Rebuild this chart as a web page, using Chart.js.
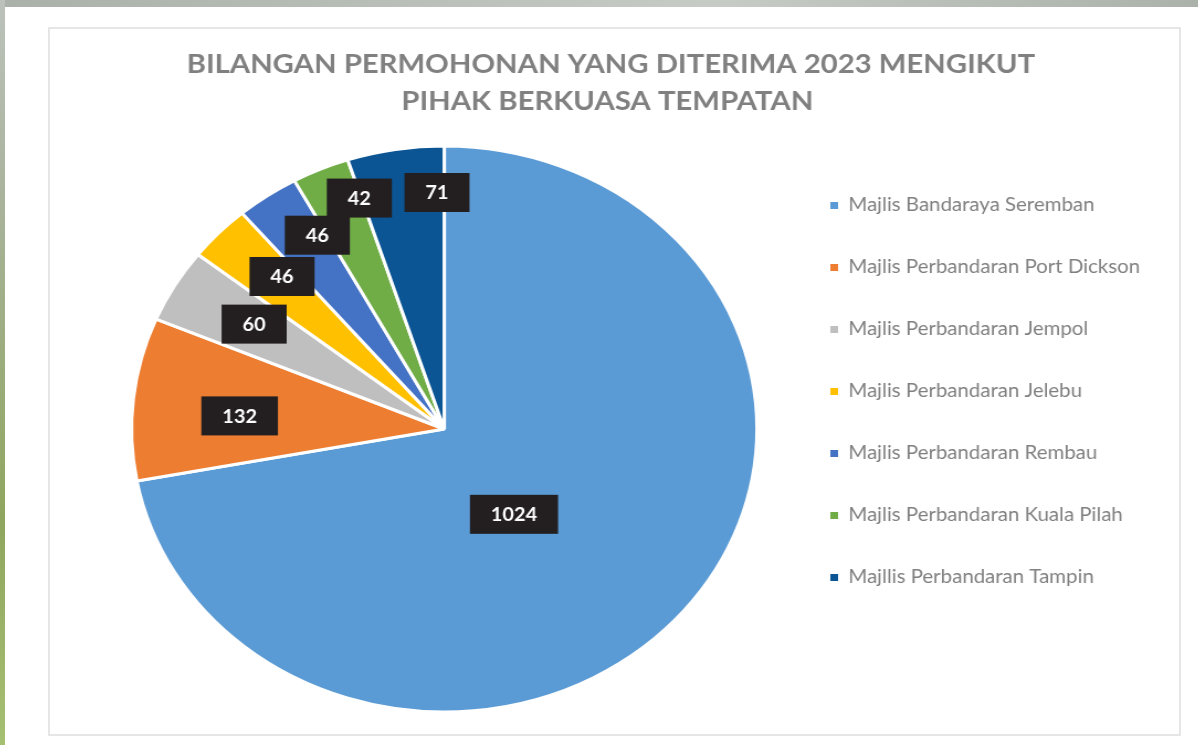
<!DOCTYPE html>
<html>
<head>
<meta charset="utf-8">
<title>Bilangan Permohonan 2023</title>
<script src="https://cdn.jsdelivr.net/npm/chart.js@4/dist/chart.umd.min.js"></script>
<style>
  html, body { margin: 0; padding: 0; }
  body { width: 1198px; height: 745px; position: relative; overflow: hidden; background: #fff; font-family: Lato, sans-serif; }
  .top-band { position: absolute; left: 0; top: 0; width: 1198px; height: 7px; background: linear-gradient(to right, #a9b1a8, #c6cbc5 60%, #aab2a9); }
  .left-band { position: absolute; left: 0; top: 0; width: 5px; height: 745px; background: linear-gradient(to bottom, #bcc2bb, #aab49e 25%, #8fa65e 70%, #a6c072); }
  .frame { position: absolute; left: 48px; top: 27px; width: 1129px; height: 705px; border: 2px solid #e6e6e6; }
  /* the original picture is stretched sideways, so the whole chart is too */
  .chart-box { position: absolute; left: 48px; top: 27px; width: 1025px; height: 709px; transform: scaleX(1.105); transform-origin: 0 0; }
</style>
</head>
<body>
<div class="top-band"></div>
<div class="left-band"></div>
<div class="frame"></div>
<div class="chart-box"><canvas id="pbt-chart"></canvas></div>

<script>
// data
// (trailing spaces nudge the centred title a little to the left, as in the picture)
const titleLines = ['BILANGAN PERMOHONAN YANG DITERIMA 2023 MENGIKUT     ', 'PIHAK BERKUASA TEMPATAN      '];
const councils = [
  'Majlis Bandaraya Seremban',
  'Majlis Perbandaran Port Dickson',
  'Majlis Perbandaran Jempol',
  'Majlis Perbandaran Jelebu',
  'Majlis Perbandaran Rembau',
  'Majlis Perbandaran Kuala Pilah',
  'Majllis Perbandaran Tampin'
];
const applications = [1024, 132, 60, 46, 46, 42, 71];
const sliceColors = ['#5B9BD5', '#ED7D31', '#BFBFBF', '#FFC000', '#4472C4', '#70AD47', '#0B5594'];

// where each value box sits: angle shift (deg) from the slice middle, and fraction of radius
const labelShift = [13.8, -2.1, 0.9, 2.2, 3.8, 4.9, 7.4];
const labelDist = [0.375, 0.656, 0.712, 0.748, 0.796, 0.86, 0.836];

// legend sizing: the legend box must start at x=664.5 (chart units) so the
// pie centre lands where it is in the picture; work out its natural width
const legendFontSize = 18.5;
const legendPad = 43.5;
const legendBox = 7;
const probe = document.createElement('canvas').getContext('2d');
probe.font = legendFontSize + 'px Lato';
const widestLabel = Math.max(...councils.map(t => probe.measureText(t).width));
const legendWidth = legendPad + legendBox + legendFontSize / 2 + widestLabel + 10;
const rightPad = Math.max(0, 1025 - 664.5 - legendWidth);

// dark boxes with the values, placed from the arc geometry
const valueBoxes = {
  id: 'valueBoxes',
  afterDatasetsDraw(chart, args, opts) {
    const ctx = chart.ctx;
    const meta = chart.getDatasetMeta(0);
    ctx.save();
    ctx.font = opts.font;
    ctx.textAlign = 'center';
    ctx.textBaseline = 'middle';
    meta.data.forEach((arc, i) => {
      const p = arc.getProps(['x', 'y', 'startAngle', 'endAngle', 'outerRadius'], true);
      const mid = (p.startAngle + p.endAngle) / 2 + opts.shift[i] * Math.PI / 180;
      const r = p.outerRadius * opts.dist[i];
      const cx = p.x + Math.cos(mid) * r;
      const cy = p.y + Math.sin(mid) * r;
      const text = String(chart.data.datasets[0].data[i]);
      const w = ctx.measureText(text).width + opts.padX * 2;
      ctx.fillStyle = opts.background;
      ctx.fillRect(cx - w / 2, cy - opts.height / 2, w, opts.height);
      ctx.fillStyle = opts.color;
      ctx.fillText(text, cx, cy + 1);
    });
    ctx.restore();
  }
};

const ctx = document.getElementById('pbt-chart').getContext('2d');
new Chart(ctx, {
  type: 'pie',
  data: {
    labels: councils,
    datasets: [{
      data: applications,
      backgroundColor: sliceColors,
      borderColor: '#ffffff',
      borderWidth: 3
    }]
  },
  plugins: [valueBoxes],
  options: {
    responsive: true,
    maintainAspectRatio: false,
    animation: false,
    radius: 283,
    layout: { padding: { top: 20, left: 52.7, right: rightPad, bottom: 0 } },
    plugins: {
      title: {
        display: true,
        text: titleLines,
        color: '#808080',
        font: { family: 'Lato', size: 26.5, weight: 'bold', lineHeight: 1.415 },
        padding: { top: -1.5, bottom: 1.5 }
      },
      legend: {
        position: 'right',
        align: 'center',
        labels: {
          color: '#808080',
          font: { family: 'Lato', size: legendFontSize },
          boxWidth: legendBox,
          boxHeight: legendBox,
          padding: legendPad,
          generateLabels(chart) {
            return chart.data.labels.map((label, i) => ({
              text: label,
              fillStyle: sliceColors[i],
              strokeStyle: sliceColors[i],
              lineWidth: 0,
              fontColor: '#808080',
              hidden: false,
              index: i
            }));
          }
        }
      },
      tooltip: { enabled: false },
      valueBoxes: {
        shift: labelShift,
        dist: labelDist,
        font: 'bold 18px Lato',
        padX: 19,
        height: 39,
        background: '#231F20',
        color: '#ffffff'
      }
    }
  }
});
</script>
</body>
</html>
